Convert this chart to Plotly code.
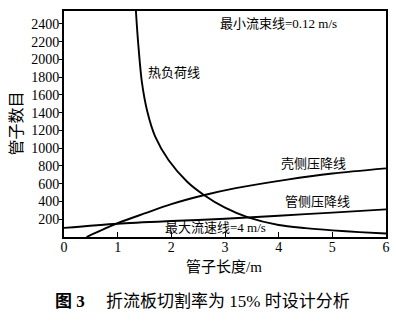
import plotly.graph_objects as go

# Data
heat_x = [1.34, 1.38, 1.45, 1.55, 1.70, 1.95, 2.30, 2.60, 3.00, 3.43, 4.00, 4.50, 5.00, 5.50, 6.00]
heat_y = [2546, 2200, 1750, 1420, 1130, 864, 620, 477, 330, 221, 135, 100, 75, 55, 40]

shell_x = [0.42, 1.0, 1.5, 2.0, 2.6, 3.2, 4.16, 5.0, 6.0]
shell_y = [0, 155, 265, 370, 470, 550, 647, 715, 773]

tube_x = [0, 1, 2, 3, 4, 5, 6]
tube_y = [103, 150, 180, 205, 240, 275, 311]

x_ticks = [0, 1, 2, 3, 4, 5, 6]
y_ticks = [200, 400, 600, 800, 1000, 1200, 1400, 1600, 1800, 2000, 2200, 2400]

FONT = "Liberation Serif, Noto Sans CJK SC, serif"

fig = go.Figure()
line = dict(color="black", width=1.9, shape="spline", smoothing=0.8)
fig.add_trace(go.Scatter(x=heat_x, y=heat_y, mode="lines", line=line, showlegend=False))
fig.add_trace(go.Scatter(x=shell_x, y=shell_y, mode="lines", line=line, showlegend=False))
fig.add_trace(go.Scatter(x=tube_x, y=tube_y, mode="lines", line=line, showlegend=False))

labels = [
    ("最小流束线=0.12 m/s", 4.0, 2410, 13),
    ("热负荷线", 2.05, 1850, 13),
    ("壳侧压降线", 4.65, 830, 13),
    ("管侧压降线", 4.73, 395, 13),
    ("最大流速线=4 m/s", 2.82, 105, 13),
]
for text, x, y, s in labels:
    fig.add_annotation(x=x, y=y, text=text, showarrow=False,
                       font=dict(family=FONT, size=s, color="black"),
                       xanchor="center", yanchor="middle")

# axis titles and caption
fig.add_annotation(xref="paper", yref="paper", x=(226 - 64) / 326, y=(236.6 - 267) / 225.6,
                   text="管子长度/m", showarrow=False, xanchor="center", yanchor="middle",
                   font=dict(family=FONT, size=15, color="black"))
fig.add_annotation(xref="paper", yref="paper", x=(15 - 64) / 326, y=0.5,
                   text="管子数目", showarrow=False, textangle=-90, xanchor="center", yanchor="middle",
                   font=dict(family=FONT, size=16, color="black"))
fig.add_annotation(xref="paper", yref="paper", x=(204 - 64) / 326, y=(236.6 - 301) / 225.6,
                   text="<b>图 3</b>　 折流板切割率为 15% 时设计分析", showarrow=False,
                   xanchor="center", yanchor="middle",
                   font=dict(family=FONT, size=17, color="black"))

fig.update_layout(
    width=396, height=322,
    margin=dict(l=64, r=6, t=11, b=85),
    paper_bgcolor="white", plot_bgcolor="white",
    font=dict(family=FONT, color="black"),
    xaxis=dict(range=[0, 6], tickvals=x_ticks, ticks="inside", ticklen=5, tickwidth=1,
               tickcolor="black", showgrid=False, zeroline=False, showline=True,
               linecolor="black", linewidth=2, mirror=True, ticklabelstandoff=-4,
               tickfont=dict(family=FONT, size=14, color="black")),
    yaxis=dict(range=[0, 2546], tickvals=y_ticks, ticks="outside", ticklen=3, tickwidth=1,
               tickcolor="black", showgrid=False, zeroline=False, showline=True,
               linecolor="black", linewidth=2, mirror=True, ticklabelstandoff=-3,
               tickfont=dict(family=FONT, size=14, color="black")),
)

fig.write_html("out.html")
